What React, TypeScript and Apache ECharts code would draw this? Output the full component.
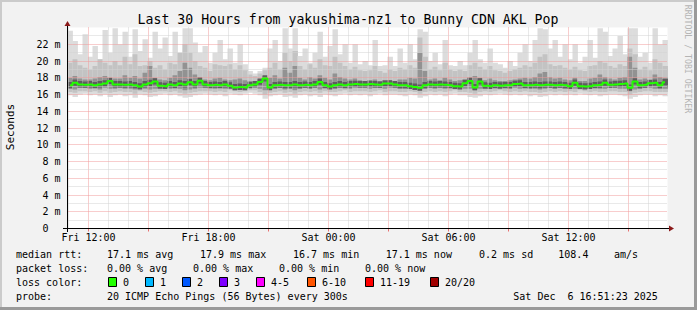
import React, { useEffect, useRef } from 'react';
import * as echarts from 'echarts';

// x axis in hours since Fri 00:00; plot spans 30 hours
const START_HOUR = 10.95;
const END_HOUR = 40.95;
const STEP_HOURS = 0.25;

const medianRtt = [
  17.1, 17.4, 17.2, 17.15, 17.2, 17.1, 17.2, 17.3, 17.6, 17.2,
  17.2, 17.15, 17.2, 17.1, 16.95, 17.2, 17.35, 17.55, 17.05, 17.0,
  17.2, 17.1, 17.3, 17.2, 17.45, 17.2, 17.65, 17.2, 17.1, 17.15,
  17.1, 17.2, 17.05, 16.85, 16.9, 16.85, 17.1, 17.2, 17.5, 17.9,
  16.85, 17.1, 17.15, 17.1, 17.1, 17.2, 17.1, 17.15, 17.1, 17.2,
  17.5, 17.1, 16.95, 17.1, 17.2, 17.1, 17.2, 17.25, 17.2, 17.2,
  17.25, 17.2, 17.15, 17.3, 17.3, 17.2, 17.1, 17.1, 17.0, 16.9,
  16.8, 17.1, 17.2, 17.15, 17.2, 17.15, 17.1, 17.0, 16.95, 17.35,
  17.6, 16.85, 17.55, 17.05, 17.0, 17.1, 17.05, 17.1, 17.1, 17.25,
  17.3, 17.1, 17.1, 17.15, 17.1, 17.15, 17.15, 17.1, 17.15, 17.1,
  17.0, 17.4, 17.0, 16.95, 17.0, 17.1, 17.15, 17.4, 17.15, 17.2,
  17.25, 17.3, 16.8, 17.55, 17.1, 17.15, 17.35, 17.4, 17.1, 17.45,
];

const pingMin = [
  15.9, 15.7, 16.0, 16.1, 15.9, 16.0, 15.8, 16.0, 15.7, 15.9,
  16.0, 15.8, 15.9, 15.6, 16.0, 15.9, 15.7, 15.8, 16.0, 16.1,
  15.9, 16.0, 15.8, 15.6, 15.7, 15.9, 16.0, 16.1, 16.0, 15.9,
  16.0, 15.8, 16.1, 16.0, 15.9, 16.1, 16.2, 16.1, 15.9, 15.5,
  15.8, 15.9, 16.0, 15.7, 15.8, 15.6, 15.9, 16.0, 15.8, 15.9,
  15.7, 16.0, 15.9, 15.8, 16.0, 16.1, 15.9, 16.0, 15.9, 16.0,
  15.8, 16.0, 16.1, 15.9, 16.0, 16.0, 15.9, 15.8, 16.0, 15.9,
  15.6, 15.8, 16.0, 15.9, 16.0, 15.8, 16.0, 16.1, 15.9, 15.9,
  15.7, 15.6, 15.8, 16.0, 15.9, 16.0, 16.1, 16.0, 15.9, 16.0,
  15.9, 16.0, 15.8, 15.9, 15.7, 15.8, 16.0, 15.9, 16.0, 15.9,
  16.0, 15.9, 16.1, 16.0, 15.9, 16.0, 15.8, 15.9, 16.0, 16.0,
  15.9, 15.8, 15.5, 15.7, 15.9, 16.0, 16.0, 15.8, 15.9, 15.8,
];

const pingLoMid = [
  16.3, 16.2, 16.4, 16.4, 16.3, 16.4, 16.2, 16.4, 16.2, 16.3,
  16.4, 16.3, 16.3, 16.1, 16.4, 16.3, 16.2, 16.3, 16.4, 16.4,
  16.3, 16.4, 16.2, 16.1, 16.2, 16.3, 16.4, 16.4, 16.4, 16.3,
  16.4, 16.3, 16.5, 16.4, 16.3, 16.4, 16.5, 16.5, 16.3, 16.0,
  16.2, 16.3, 16.4, 16.2, 16.3, 16.1, 16.3, 16.4, 16.3, 16.4,
  16.2, 16.4, 16.3, 16.3, 16.4, 16.5, 16.3, 16.4, 16.4, 16.4,
  16.3, 16.4, 16.5, 16.3, 16.4, 16.4, 16.3, 16.3, 16.4, 16.3,
  16.1, 16.3, 16.4, 16.3, 16.4, 16.3, 16.4, 16.5, 16.3, 16.3,
  16.2, 16.1, 16.3, 16.4, 16.3, 16.4, 16.5, 16.4, 16.3, 16.4,
  16.3, 16.4, 16.3, 16.3, 16.2, 16.3, 16.4, 16.3, 16.4, 16.3,
  16.4, 16.3, 16.5, 16.4, 16.3, 16.4, 16.3, 16.3, 16.4, 16.4,
  16.3, 16.3, 16.0, 16.2, 16.3, 16.4, 16.4, 16.3, 16.3, 16.3,
];

const pingLoDark = [
  16.7, 16.6, 16.8, 16.8, 16.7, 16.8, 16.6, 16.8, 16.7, 16.7,
  16.8, 16.7, 16.7, 16.6, 16.7, 16.7, 16.6, 16.7, 16.8, 16.8,
  16.7, 16.8, 16.7, 16.5, 16.6, 16.7, 16.8, 16.8, 16.8, 16.7,
  16.8, 16.7, 16.8, 16.7, 16.7, 16.7, 16.9, 16.9, 16.7, 16.5,
  16.6, 16.7, 16.8, 16.6, 16.7, 16.5, 16.7, 16.8, 16.7, 16.8,
  16.6, 16.8, 16.7, 16.7, 16.8, 16.9, 16.7, 16.8, 16.8, 16.8,
  16.7, 16.8, 16.8, 16.7, 16.8, 16.8, 16.7, 16.7, 16.7, 16.6,
  16.5, 16.7, 16.8, 16.7, 16.8, 16.7, 16.8, 16.8, 16.7, 16.7,
  16.7, 16.5, 16.7, 16.8, 16.7, 16.8, 16.8, 16.8, 16.7, 16.8,
  16.7, 16.8, 16.7, 16.7, 16.6, 16.7, 16.8, 16.7, 16.8, 16.7,
  16.8, 16.7, 16.8, 16.7, 16.7, 16.8, 16.7, 16.7, 16.8, 16.8,
  16.7, 16.7, 16.4, 16.6, 16.7, 16.8, 16.8, 16.7, 16.7, 16.7,
];

const pingHiDark = [
  18.0, 18.2, 17.9, 17.8, 17.8, 17.9, 18.1, 18.2, 18.0, 17.9,
  17.9, 18.3, 18.0, 18.2, 17.9, 18.6, 19.4, 18.0, 17.8, 17.7,
  18.0, 18.3, 18.8, 19.8, 19.2, 18.4, 18.0, 17.8, 17.7, 17.9,
  18.0, 17.8, 17.7, 17.8, 17.9, 17.7, 17.6, 17.5, 17.8, 18.2,
  18.0, 18.3, 17.9, 19.2, 18.6, 19.4, 18.0, 17.8, 18.1, 17.9,
  18.3, 18.0, 17.8, 18.5, 18.1, 17.9, 17.8, 17.9, 17.7, 17.6,
  17.7, 17.8, 17.6, 17.6, 17.7, 17.6, 17.8, 17.8, 18.0, 17.9,
  21.0, 18.8, 17.8, 17.9, 17.7, 18.0, 17.8, 17.6, 17.7, 17.8,
  18.1, 18.2, 18.0, 17.7, 17.9, 17.7, 17.6, 17.6, 17.7, 17.8,
  17.9, 18.0, 17.9, 18.1, 18.5, 18.7, 18.1, 17.9, 18.0, 17.8,
  17.7, 18.0, 17.6, 17.6, 17.9, 18.0, 18.4, 18.1, 17.9, 17.8,
  18.0, 18.1, 20.5, 19.2, 17.8, 17.9, 17.7, 18.4, 18.1, 18.0,
];

const pingHiMid = [
  19.8, 20.2, 19.5, 19.2, 19.0, 19.4, 20.2, 19.8, 19.5, 20.0,
  19.5, 20.5, 19.6, 20.8, 19.4, 19.5, 20.0, 19.2, 19.5, 19.0,
  19.8, 19.6, 21.0, 22.0, 21.0, 20.0, 19.4, 19.2, 18.8, 19.6,
  19.5, 19.4, 19.6, 19.0, 19.5, 18.9, 18.4, 18.2, 18.5, 18.9,
  19.2, 19.8, 19.0, 21.0, 20.0, 21.2, 19.4, 19.0, 19.6, 19.2,
  20.2, 19.5, 19.4, 20.5, 19.8, 19.4, 19.0, 19.3, 18.9, 18.8,
  18.9, 19.4, 18.8, 18.6, 19.0, 18.8, 19.2, 19.0, 19.5, 19.2,
  22.8, 20.5, 19.0, 19.3, 18.9, 19.8, 19.0, 18.8, 19.0, 18.8,
  19.5, 19.8, 19.3, 19.0, 19.4, 18.9, 18.8, 18.6, 18.8, 19.0,
  19.2, 19.5, 19.3, 19.8, 20.5, 20.8, 19.6, 19.4, 19.5, 19.2,
  19.0, 19.3, 18.9, 18.8, 19.4, 19.5, 20.0, 19.8, 19.4, 19.2,
  19.6, 19.4, 21.5, 20.8, 19.0, 19.3, 18.9, 20.2, 19.8, 19.4,
];

const pingMax = [
  23.6, 22.4, 20.8, 23.2, 20.5, 21.8, 20.2, 23.7, 21.0, 23.9,
  22.0, 23.5, 20.5, 23.8, 21.2, 22.6, 20.4, 23.5, 21.5, 22.8,
  20.6, 23.5, 21.0, 23.9, 23.9, 22.2, 21.0, 21.8, 19.8, 21.0,
  22.5, 20.2, 21.5, 19.8, 22.0, 19.6, 18.8, 18.5, 18.8, 19.2,
  21.5, 22.5, 20.0, 23.9, 21.5, 23.9, 20.6, 21.5, 19.8, 21.0,
  23.5, 20.5, 21.8, 23.8, 20.8, 22.0, 19.8, 22.0, 19.6, 20.0,
  19.5, 22.5, 19.4, 19.5, 20.5, 19.4, 21.5, 19.8, 22.0, 20.2,
  23.8, 23.5, 20.0, 21.0, 19.6, 22.5, 19.5, 19.4, 20.0, 19.5,
  21.0, 22.5, 20.2, 19.8, 21.5, 19.8, 19.6, 19.2, 20.0, 19.4,
  21.0, 22.0, 20.0, 22.5, 23.9, 23.8, 21.5, 22.5, 20.5, 22.0,
  20.2, 22.0, 19.8, 20.5, 22.5, 20.4, 23.9, 23.5, 20.6, 21.5,
  23.0, 20.8, 23.9, 23.9, 20.5, 21.0, 19.8, 23.9, 22.0, 22.5,
];

const xLabelHours = [12, 18, 24, 30, 36];
const xLabelTexts = ['Fri 12:00', 'Fri 18:00', 'Sat 00:00', 'Sat 06:00', 'Sat 12:00'];
const majorHours = [12, 15, 18, 21, 24, 27, 30, 33, 36, 39];
const minorHours = [11, 13, 14, 16, 17, 19, 20, 22, 23, 25, 26, 28, 29, 31, 32, 34, 35, 37, 38, 40];
const majorMs = [2, 4, 6, 8, 10, 12, 14, 16, 18, 20, 22];
const minorMs = [1, 3, 5, 7, 9, 11, 13, 15, 17, 19, 21, 23];

const titleText = 'Last 30 Hours from yakushima-nz1 to Bunny CDN AKL Pop';
const statRows = [
  { y: 254, items: [[16, 'median rtt:'], [107, '17.1 ms avg'], [200, '17.9 ms max'], [293, '16.7 ms min'], [385.7, '17.1 ms now'], [479, '0.2 ms sd'], [558.3, '108.4'], [614, 'am/s']] },
  { y: 268, items: [[16, 'packet loss:'], [107, '0.00 % avg'], [193, '0.00 % max'], [279, '0.00 % min'], [365, '0.00 % now']] },
  { y: 282, items: [[16, 'loss color:']] },
  { y: 296, items: [[16, 'probe:'], [107, '20 ICMP Echo Pings (56 Bytes) every 300s'], [513.3, 'Sat Dec  6 16:51:23 2025']] },
];
const lossLabels = ['0', '1', '2', '3', '4-5', '6-10', '11-19', '20/20'];
const lossColors = ['#22ff00', '#00b8ff', '#0059ff', '#7e00ff', '#ff00ff', '#ff5500', '#ff0000', '#a10000'];
const lossBoxX = [108.5, 145.5, 182.5, 219.5, 256.5, 307.5, 365.5, 430.5];

const MONO = '"DejaVu Sans Mono", monospace';

export default function App() {
  const ref = useRef<HTMLDivElement>(null);

  useEffect(() => {
    if (!ref.current) return;
    const chart = echarts.init(ref.current, undefined, { renderer: 'svg' });

    const smokeData = medianRtt.map((m, i) => [
      START_HOUR + i * STEP_HOURS,
      pingMin[i], pingLoMid[i], pingLoDark[i], pingHiDark[i], pingHiMid[i], pingMax[i], m,
    ]);
    const medianData = medianRtt.map((m, i) => [START_HOUR + (i + 0.5) * STEP_HOURS, m]);
    const vGridData = [
      ...majorHours.map((h) => [h, 1]),
      ...minorHours.map((h) => [h, 0]),
    ];
    const hGridData = [
      ...majorMs.map((v) => [START_HOUR, v, 1]),
      ...minorMs.map((v) => [START_HOUR, v, 0]),
    ];

    const graphics: any[] = [];
    graphics.push({ type: 'rect', shape: { x: 0, y: 0, width: 697, height: 2 }, style: { fill: '#cbcbcb' }, silent: true });
    graphics.push({ type: 'rect', shape: { x: 0, y: 0, width: 2, height: 310 }, style: { fill: '#cbcbcb' }, silent: true });
    graphics.push({ type: 'rect', shape: { x: 0, y: 307, width: 697, height: 3 }, style: { fill: '#9a9a9a' }, silent: true });
    graphics.push({ type: 'rect', shape: { x: 694, y: 0, width: 3, height: 310 }, style: { fill: '#9a9a9a' }, silent: true });
    graphics.push({
      type: 'text', x: 348, y: 19,
      style: { text: titleText, font: `13.2px ${MONO}`, fill: '#000', textAlign: 'center', textVerticalAlign: 'middle', align: 'center', verticalAlign: 'middle' },
    });
    graphics.push({
      type: 'text', x: 10.5, y: 127, rotation: Math.PI / 2,
      style: { text: 'Seconds', font: `11px ${MONO}`, fill: '#000', textAlign: 'center', textVerticalAlign: 'middle', align: 'center', verticalAlign: 'middle' },
    });
    graphics.push({
      type: 'text', x: 688, y: 59, rotation: -Math.PI / 2,
      style: { text: 'RRDTOOL / TOBI OETIKER', font: `8.2px ${MONO}`, fill: '#b4b4b4', textAlign: 'center', textVerticalAlign: 'middle', align: 'center', verticalAlign: 'middle' },
    });
    graphics.push({ type: 'line', z: 100, shape: { x1: 63, y1: 228.5, x2: 670, y2: 228.5 }, style: { stroke: '#000', lineWidth: 1 } });
    graphics.push({ type: 'line', z: 100, shape: { x1: 67.5, y1: 232, x2: 67.5, y2: 25 }, style: { stroke: '#000', lineWidth: 1 } });
    graphics.push({ type: 'polygon', z: 100, shape: { points: [[64.5, 26], [70.5, 26], [67.5, 21]] }, style: { fill: '#8b1a1a' } });
    graphics.push({ type: 'polygon', z: 100, shape: { points: [[669, 225.5], [669, 231.5], [674, 228.5]] }, style: { fill: '#8b1a1a' } });
    statRows.forEach((row) => {
      row.items.forEach(([x, t]) => {
        graphics.push({
          type: 'text', x: x as number, y: row.y,
          style: { text: t as string, font: `10px ${MONO}`, fill: '#000', textAlign: 'left', textVerticalAlign: 'middle', align: 'left', verticalAlign: 'middle' },
        });
      });
    });
    lossLabels.forEach((lbl, i) => {
      graphics.push({ type: 'rect', shape: { x: lossBoxX[i], y: 277.5, width: 8, height: 9 }, style: { fill: lossColors[i], stroke: '#000', lineWidth: 1 } });
      graphics.push({
        type: 'text', x: lossBoxX[i] + 14.5, y: 282,
        style: { text: lbl, font: `10px ${MONO}`, fill: '#000', textAlign: 'left', textVerticalAlign: 'middle', align: 'left', verticalAlign: 'middle' },
      });
    });

    chart.setOption({
      animation: false,
      backgroundColor: '#f2f2f2',
      grid: { left: 67.5, top: 27.5, width: 600, height: 201, show: true, backgroundColor: '#ffffff', borderWidth: 0 },
      xAxis: {
        type: 'value', min: START_HOUR, max: END_HOUR,
        axisLine: { show: false }, axisTick: { show: false }, splitLine: { show: false },
        axisLabel: {
          customValues: xLabelHours,
          formatter: (v: number) => {
            const idx = xLabelHours.findIndex((h) => Math.abs(h - v) < 1e-6);
            return idx >= 0 ? xLabelTexts[idx] : '';
          },
          color: '#000', fontFamily: 'DejaVu Sans Mono', fontSize: 10, margin: 4,
        },
      },
      yAxis: {
        type: 'value', min: 0, max: 24, interval: 2,
        axisLine: { show: false }, axisTick: { show: false }, splitLine: { show: false },
        axisLabel: {
          formatter: (v: number) => (v === 0 ? '0\u00a0\u00a0' : v >= 24 ? '' : `${v} m`),
          color: '#000', fontFamily: 'DejaVu Sans Mono', fontSize: 10, margin: 7,
        },
      },
      graphic: graphics,
      series: [
        {
          type: 'custom', name: 'smoke', z: 1, clip: true,
          encode: { x: 0, y: 6 },
          data: smokeData,
          renderItem: (params: any, api: any) => {
            const t = api.value(0);
            const x0 = api.coord([t, 0])[0];
            const x1 = api.coord([t + STEP_HOURS, 0])[0];
            const yy = (v: number) => api.coord([t, v])[1];
            const band = (lo: number, hi: number, fill: string) => ({
              type: 'rect',
              shape: { x: x0, y: yy(hi), width: x1 - x0 + 0.4, height: yy(lo) - yy(hi) },
              style: { fill },
            });
            const m = api.value(7);
            return {
              type: 'group',
              children: [
                band(api.value(1), api.value(6), '#dcdcdc'),
                band(api.value(2), api.value(5), '#c3c3c3'),
                band(api.value(3), api.value(4), '#929292'),
                band(m - 0.35, m + 0.4, '#5e5e5e'),
              ],
            };
          },
        },
        {
          type: 'custom', name: 'vgrid', z: 2, clip: false, silent: true,
          encode: { x: 0 },
          data: vGridData,
          renderItem: (params: any, api: any) => {
            const h = api.value(0);
            const major = api.value(1) === 1;
            const cs = params.coordSys;
            const x = Math.floor(api.coord([h, 0])[0] + 0.01) + 0.5;
            const bottom = cs.y + cs.height;
            const children: any[] = [
              { type: 'line', shape: { x1: x, y1: cs.y, x2: x, y2: bottom }, style: { stroke: major ? '#f19a9a' : '#d2d2d2', lineWidth: 1, lineDash: [1, 1] } },
            ];
            if (major) {
              children.push({ type: 'line', shape: { x1: x, y1: bottom, x2: x, y2: bottom + 3 }, style: { stroke: '#e87070', lineWidth: 1 } });
            }
            return { type: 'group', children };
          },
        },
        {
          type: 'custom', name: 'hgrid', z: 2, clip: false, silent: true,
          encode: { x: 0, y: 1 },
          data: hGridData,
          renderItem: (params: any, api: any) => {
            const v = api.value(1);
            const major = api.value(2) === 1;
            const cs = params.coordSys;
            const y = Math.floor(api.coord([START_HOUR, v])[1] + 0.01) + 0.5;
            return {
              type: 'line',
              shape: { x1: cs.x, y1: y, x2: cs.x + cs.width, y2: y },
              style: { stroke: major ? '#f19a9a' : '#d2d2d2', lineWidth: 1, lineDash: [1, 1] },
            };
          },
        },
        {
          type: 'line', name: 'median rtt', z: 3,
          data: medianData, step: 'middle', showSymbol: false, symbol: 'none',
          lineStyle: { color: '#22ff00', width: 2 },
        },
      ],
    });

    return () => chart.dispose();
  }, []);

  return <div ref={ref} style={{ position: 'fixed', left: 0, top: 0, width: 697, height: 310 }} />;
}
